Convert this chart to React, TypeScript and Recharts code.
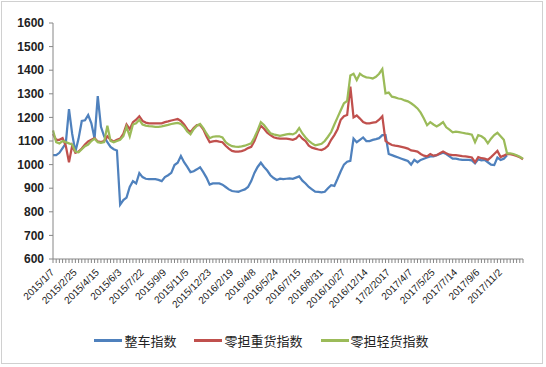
import { Legend, Line, LineChart, XAxis, YAxis } from "recharts";

// 每周一个点，2015/1/7 起
const tickLabels = [
  "2015/1/7", "2015/2/25", "2015/4/15", "2015/6/3", "2015/7/22", "2015/9/9", "2015/11/5",
  "2015/12/23", "2016/2/19", "2016/4/8", "2016/5/24", "2016/7/15", "2016/8/31", "2016/10/27",
  "2016/12/14", "17/2/2017", "2017/4/7", "2017/5/25", "2017/7/14", "2017/9/6", "2017/11/2",
];

const yTicks = [600, 700, 800, 900, 1000, 1100, 1200, 1300, 1400, 1500, 1600];

// 整车指数
const truckload: (number | null)[] = [
  1040, 1040, 1050, 1070, 1090, 1235, 1130, 1055, 1110, 1185,
  1188, 1210, 1175, 1110, 1290, 1160, 1120, 1095, 1075, 1065,
  1060, 830, 850, 860, 905, 930, 920, 964, 947, 940,
  938, 938, 938, 935, 930, 947, 955, 965, 998, 1008,
  1036, 1010, 990, 968, 972, 980, 989, 968, 945, 915,
  920, 920, 920, 915, 905, 895, 888, 886, 885, 890,
  895, 905, 930, 965, 990, 1008, 990, 975, 955, 943,
  935, 940, 938, 940, 942, 940, 945, 950, 932, 920,
  905, 895, 885, 884, 882, 885, 900, 913, 910, 940,
  972, 1000, 1012, 1016, 1110, 1095, 1105, 1115, 1100, 1100,
  1105, 1108, 1112, 1125, 1125, 1045, 1040, 1035, 1030, 1025,
  1020, 1015, 1000, 1020, 1010, 1020, 1025, 1030, 1035, 1035,
  1040, 1045, 1050, 1045, 1035, 1025, 1025, 1022, 1020, 1020,
  1020, 1018, 1005, 1022, 1018, 1020, 1010, 1000, 998, 1030,
  1020, 1025, 1040, null, null, null, null, null,
];

// 零担重货指数
const heavyLtl = [
  1130, 1105, 1105, 1112, 1080, 1010, 1080, 1050, 1055, 1068,
  1085, 1098, 1105, 1112, 1098, 1095, 1100, 1120, 1105, 1098,
  1105, 1110, 1130, 1170, 1150, 1180, 1190, 1205, 1185, 1178,
  1175, 1175, 1175, 1175, 1175, 1180, 1183, 1187, 1190, 1193,
  1185, 1170, 1150, 1137, 1155, 1167, 1168, 1150, 1120, 1095,
  1098, 1100, 1097, 1095, 1080, 1068, 1058, 1055, 1055, 1057,
  1062, 1070, 1075, 1100, 1135, 1165, 1152, 1135, 1125, 1116,
  1112, 1110, 1110, 1110, 1108, 1105, 1110, 1125, 1110, 1100,
  1080, 1072, 1068, 1064, 1062, 1068, 1080, 1105, 1125, 1150,
  1190, 1205, 1210, 1330, 1200, 1208, 1195, 1180, 1175, 1175,
  1178, 1180, 1190, 1205, 1100, 1090, 1083, 1080, 1078, 1075,
  1072, 1068, 1060, 1058, 1055, 1045, 1038, 1035, 1045, 1038,
  1040, 1048, 1055, 1048, 1042, 1040, 1040, 1038, 1036, 1035,
  1033, 1030, 1010, 1032, 1027, 1025, 1020, 1032, 1045, 1058,
  1032, 1038, 1045, 1044, 1041, 1037, 1031, 1023,
];

// 零担轻货指数
const lightLtl = [
  1145, 1095, 1090, 1100, 1095, 1090, 1085, 1055, 1052, 1065,
  1078, 1085, 1100, 1110, 1095, 1092, 1095, 1165, 1100, 1095,
  1100, 1105, 1120, 1160, 1120, 1170, 1175, 1190, 1170, 1165,
  1163, 1162, 1160, 1160, 1162, 1165, 1168, 1172, 1175, 1177,
  1172, 1160, 1140, 1128, 1150, 1165, 1172, 1155, 1132, 1112,
  1118, 1120, 1120, 1115, 1095, 1085, 1078, 1076, 1075, 1077,
  1080, 1085, 1090, 1115, 1145, 1180, 1168, 1150, 1133, 1128,
  1125, 1122, 1125, 1128, 1130, 1128, 1135, 1155, 1132, 1115,
  1100, 1090, 1082, 1085, 1088, 1100, 1118, 1138, 1170, 1200,
  1230, 1260, 1270, 1378, 1385, 1358, 1385, 1375, 1370, 1368,
  1365, 1372, 1385, 1405, 1302, 1305, 1288, 1285, 1280, 1278,
  1272, 1268, 1260, 1250, 1238, 1220, 1195, 1167, 1180, 1170,
  1162, 1170, 1180, 1158, 1148, 1137, 1140, 1138, 1135, 1132,
  1130, 1127, 1095, 1125, 1120, 1110, 1090, 1110, 1125, 1135,
  1120, 1105, 1048, 1048, 1045, 1040, 1033, 1025,
];

const series = [
  { key: "truckload", name: "整车指数", color: "#4F81BD" },
  { key: "heavyLtl", name: "零担重货指数", color: "#C0504D" },
  { key: "lightLtl", name: "零担轻货指数", color: "#9BBB59" },
];

const data = lightLtl.map((_, i) => ({
  week: i,
  truckload: truckload[i],
  heavyLtl: heavyLtl[i],
  lightLtl: lightLtl[i],
}));

const AXIS = "#868686";

// 每 7 周标一个日期，刻度线每周都画
function DateTick(props: any) {
  const { x, y, payload } = props;
  const i = payload.value as number;
  if (i % 7 !== 0) return <g />;
  return (
    <g transform={`translate(${x + 2},${y + 8})`}>
      <text
        x={0}
        y={0}
        textAnchor="end"
        transform="rotate(-45)"
        fontSize={10}
        fontFamily="Liberation Sans, Arial, sans-serif"
        fill="#222"
      >
        {tickLabels[i / 7]}
      </text>
    </g>
  );
}

function ChartLegend() {
  return (
    <div
      style={{
        display: "flex",
        justifyContent: "center",
        alignItems: "center",
        gap: 18,
        fontFamily: "'Noto Sans CJK SC', sans-serif",
        fontSize: 13,
        color: "#222",
        paddingTop: 2,
      }}
    >
      {series.map((s) => (
        <div key={s.key} style={{ display: "flex", alignItems: "center" }}>
          <span
            style={{ display: "inline-block", width: 28, height: 3, background: s.color, marginRight: 2 }}
          />
          <span>{s.name}</span>
        </div>
      ))}
    </div>
  );
}

export default function App() {
  return (
    <div style={{ position: "fixed", left: 0, top: 0, width: 546, height: 367, background: "#fff" }}>
      <div
        style={{
          position: "absolute",
          left: 1,
          top: 1,
          width: 542,
          height: 363,
          border: "1px solid #d0d0d0",
          boxSizing: "border-box",
        }}
      />
      <LineChart
        width={546}
        height={367}
        data={data}
        margin={{ top: 23, right: 23, left: 0, bottom: 0 }}
      >
        <XAxis
          dataKey="week"
          type="category"
          interval={0}
          height={70}
          stroke={AXIS}
          tickSize={4}
          tick={<DateTick />}
        />
        <YAxis
          domain={[600, 1600]}
          ticks={yTicks}
          interval={0}
          width={53}
          stroke={AXIS}
          tickSize={4}
          tickMargin={5}
          tick={{ fontSize: 12, fontWeight: 700, fill: "#222", fontFamily: "Liberation Sans, Arial, sans-serif" }}
        />
        <Legend verticalAlign="bottom" height={38} content={<ChartLegend />} />
        {series.map((s) => (
          <Line
            key={s.key}
            dataKey={s.key}
            name={s.name}
            stroke={s.color}
            strokeWidth={2.25}
            dot={false}
            activeDot={false}
            connectNulls={false}
            isAnimationActive={false}
          />
        ))}
      </LineChart>
    </div>
  );
}
